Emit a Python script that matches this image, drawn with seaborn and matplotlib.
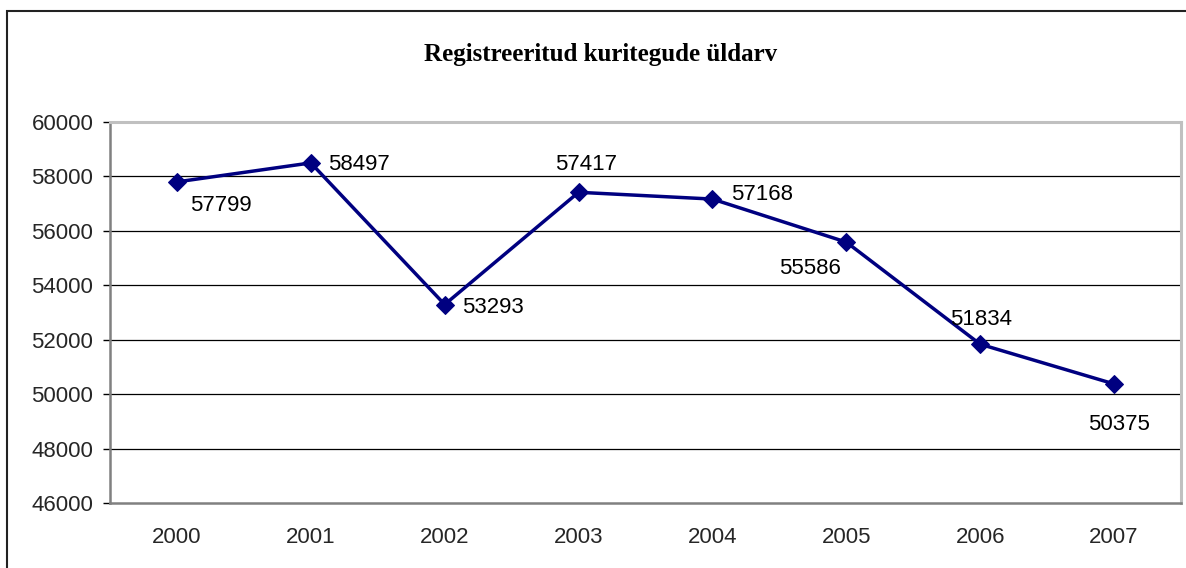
import numpy as np
import pandas as pd
import seaborn as sns
import matplotlib.pyplot as plt
from matplotlib.patches import Rectangle

# Chart data
years = ['2000', '2001', '2002', '2003', '2004', '2005', '2006', '2007']
crimes = [57799, 58497, 53293, 57417, 57168, 55586, 51834, 50375]
y_ticks = [46000, 48000, 50000, 52000, 54000, 56000, 58000, 60000]

# label offsets in pixels (dx, dy) and alignment
label_offsets = [(44, -24, 'center'), (17, -2, 'left'), (17, -3, 'left'), (8, 28, 'center'),
                 (19, 5, 'left'), (-36, -26, 'center'), (1, 25, 'center'), (5, -41, 'center')]

df = pd.DataFrame({'year': years, 'crimes': crimes})
df['pos'] = np.arange(len(years))

sns.set_style('white')
plt.rcParams['font.family'] = ['Liberation Sans', 'DejaVu Sans']

fig = plt.figure(figsize=(11.86, 5.68), dpi=100)
W, H = 1186, 568
ax = fig.add_axes([110 / W, 1 - 503 / H, (1181 - 110) / W, (503 - 122) / H])

# outer chart frame
fig.patches.append(Rectangle((7 / W, -0.1), 1.2, 1 - 11 / H + 0.1, transform=fig.transFigure,
                             fill=False, edgecolor='#222222', linewidth=1.5))

sns.lineplot(data=df, x='pos', y='crimes', ax=ax, color='#000080', linewidth=2.5,
             marker='D', markersize=9, markeredgecolor='#000080', markerfacecolor='#000080')

for i, (v, (dx, dy, ha)) in enumerate(zip(crimes, label_offsets)):
    ax.annotate(str(v), (i, v), xytext=(dx, dy), textcoords='offset pixels',
                ha=ha, va='center', fontsize=16, color='black')

ax.set_xlim(-0.5, len(years) - 0.5)
ax.set_ylim(46000, 60000)
ax.set_yticks(y_ticks)
ax.set_yticklabels([str(t) for t in y_ticks], fontsize=16)
ax.set_xticks(df['pos'])
ax.set_xticklabels(years, fontsize=16)
ax.set_xticks(np.arange(-0.5, len(years)), minor=True)
ax.tick_params(axis='x', which='major', length=0, pad=17)
ax.tick_params(axis='x', which='minor', length=5, width=1, color='black', direction='out')
ax.tick_params(axis='y', length=5, width=1, color='black', direction='out', pad=7, left=True)
ax.set_xlabel('')
ax.set_ylabel('')

for t in y_ticks[1:-1]:
    ax.axhline(t, color='black', linewidth=0.9, zorder=0)

ax.spines['top'].set_color('#c0c0c0')
ax.spines['right'].set_color('#c0c0c0')
ax.spines['top'].set_linewidth(2.2)
ax.spines['right'].set_linewidth(2.2)
ax.spines['left'].set_color('#808080')
ax.spines['bottom'].set_color('#808080')
ax.spines['left'].set_linewidth(1.8)
ax.spines['bottom'].set_linewidth(1.8)

fig.text(601 / W, 1 - 54 / H, 'Registreeritud kuritegude üldarv', ha='center', va='center',
         fontsize=18, fontweight='bold', color='black', family=['Liberation Serif', 'DejaVu Serif'])

fig.savefig('out.png', dpi=100)
